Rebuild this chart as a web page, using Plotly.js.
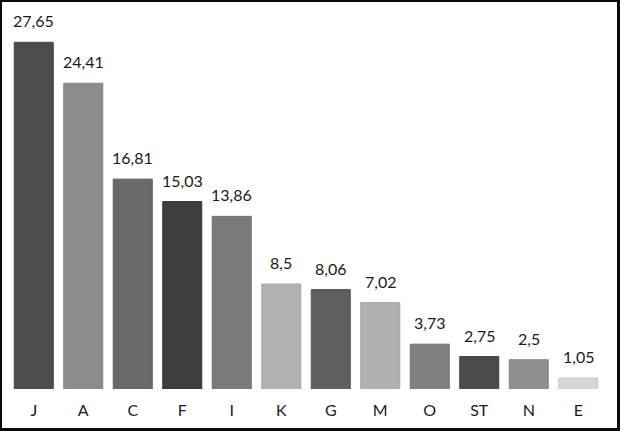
<!DOCTYPE html>
<html>
<head>
<meta charset="utf-8">
<script src="https://cdn.plot.ly/plotly-3.0.1.min.js"></script>
<style>
html,body{margin:0;padding:0;background:#fff;}
#frame{width:620px;height:431px;box-sizing:border-box;border-style:solid;border-color:#0a0a0a;border-width:2px 3px 3px 2px;overflow:hidden;}
#chart{width:615px;height:426px;}
</style>
</head>
<body>
<div id="frame"><div id="chart"></div></div>
<script>
var categories = ["J","A","C","F","I","K","G","M","O","ST","N","E"];
var values = [27.65,24.41,16.81,15.03,13.86,8.5,8.06,7.02,3.73,2.75,2.5,1.05];
var labels = ["27,65","24,41","16,81","15,03","13,86","8,5","8,06","7,02","3,73","2,75","2,5","1,05"];
var barColors = ["#4d4d4d","#8c8c8c","#6a6a6a","#3e3e3e","#7a7a7a","#b2b2b2","#5f5f5f","#b0b0b0","#7f7f7f","#4b4b4b","#8f8f8f","#d6d6d6"];
var lineColors = ["#444","#808080","#5f5f5f","#333","#6e6e6e","#a5a5a5","#555","#a3a3a3","#737373","#404040","#838383","#c9c9c9"];

var trace = {
  type: "bar",
  x: categories,
  y: values,
  marker: {color: barColors, line: {color: lineColors, width: 1}},
  hoverinfo: "none"
};

var annotations = categories.map(function(c, i){
  return {
    x: c, y: values[i], xref: "x", yref: "y",
    text: labels[i], showarrow: false,
    yanchor: "bottom", yshift: 10,
    font: {family: "Lato, 'Open Sans', sans-serif", size: 16, color: "#1a1a1a"}
  };
});

var layout = {
  width: 615, height: 426,
  margin: {l: 7, r: 14, t: 18, b: 39},
  paper_bgcolor: "#ffffff",
  plot_bgcolor: "#ffffff",
  bargap: 0.212,
  showlegend: false,
  xaxis: {
    type: "category",
    showgrid: false, zeroline: false, showline: false,
    ticks: "",
    ticklabelstandoff: 10,
    tickfont: {family: "Lato, 'Open Sans', sans-serif", size: 16, color: "#1a1a2a"}
  },
  yaxis: {
    range: [0.18, 29.42],
    visible: false,
    showgrid: false, zeroline: false
  },
  annotations: annotations
};

Plotly.newPlot("chart", [trace], layout, {displayModeBar: false, staticPlot: true});
</script>
</body>
</html>
